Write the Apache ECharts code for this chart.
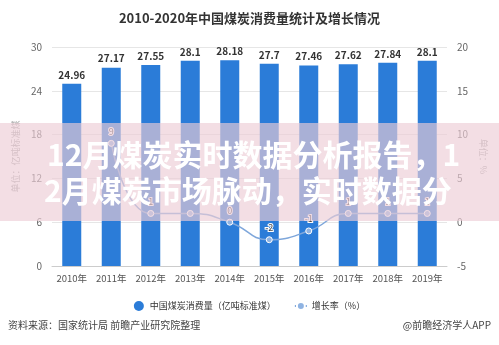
<!DOCTYPE html>
<html>
<head>
<meta charset="utf-8">
<script src="https://cdn.jsdelivr.net/npm/echarts@6/dist/echarts.min.js"></script>
<style>
  html, body { margin: 0; padding: 0; background: #fff; }
  #chart { width: 499px; height: 345px; }
</style>
</head>
<body>
<div id="chart"></div>
<script>
// Coal consumption by year (100 million tonnes of standard coal) and yearly growth (%)
const years = ['2010年', '2011年', '2012年', '2013年', '2014年', '2015年', '2016年', '2017年', '2018年', '2019年'];
const consumption = [24.96, 27.17, 27.55, 28.1, 28.18, 27.7, 27.46, 27.62, 27.84, 28.1];
const growth = [null, 9, 1, 1, 0, -2, -1, 1, 1, 1];
const hiddenGrowthLabels = [3];

const FONT = '"Noto Sans CJK SC", "Noto Sans", sans-serif';
const chart = echarts.init(document.getElementById('chart'));

chart.setOption({
  backgroundColor: '#ffffff',
  animation: false,
  textStyle: { fontFamily: FONT },
  title: {
    text: '2010-2020年中国煤炭消费量统计及增长情况',
    left: 'center',
    top: 7,
    textStyle: { fontSize: 13, fontWeight: 'bold', color: '#333', fontFamily: FONT }
  },
  grid: { left: 52, right: 52, top: 47, bottom: 79 },
  legend: {
    bottom: 29,
    left: 'center',
    itemGap: 18,
    itemWidth: 12,
    itemHeight: 10,
    textStyle: { fontSize: 9, color: '#333', fontFamily: FONT },
    data: [
      { name: '中国煤炭消费量（亿吨标准煤）', icon: 'circle' },
      { name: '增长率（%）' }
    ]
  },
  xAxis: {
    type: 'category',
    data: years,
    axisLine: { lineStyle: { color: '#cccccc' } },
    axisTick: { alignWithLabel: true, lineStyle: { color: '#cccccc' } },
    axisLabel: { color: '#555', fontSize: 9.5, margin: 8, interval: 0 }
  },
  yAxis: [
    {
      type: 'value',
      min: 0, max: 30, interval: 6,
      name: '单位：亿吨标准煤',
      nameLocation: 'middle',
      nameGap: 32,
      nameRotate: 90,
      nameTextStyle: { color: '#aaa', fontSize: 9 },
      axisLine: { show: false },
      axisTick: { show: false },
      axisLabel: { color: '#666', fontSize: 10, margin: 10 },
      splitLine: { lineStyle: { color: '#e6e6e6' } }
    },
    {
      type: 'value',
      min: -5, max: 20, interval: 5,
      name: '单位：%',
      nameLocation: 'middle',
      nameGap: 30,
      nameRotate: -90,
      nameTextStyle: { color: '#aaa', fontSize: 9 },
      axisLine: { show: false },
      axisTick: { show: false },
      axisLabel: { color: '#666', fontSize: 10, margin: 10 },
      splitLine: { show: false }
    }
  ],
  series: [
    {
      name: '中国煤炭消费量（亿吨标准煤）',
      type: 'bar',
      yAxisIndex: 0,
      barWidth: 19,
      data: consumption,
      itemStyle: { color: '#2b7cd8' },
      label: {
        show: true,
        position: 'top',
        distance: 4,
        fontSize: 10,
        fontWeight: 'bold',
        color: '#333'
      }
    },
    {
      name: '增长率（%）',
      type: 'line',
      yAxisIndex: 1,
      data: growth.map((v, i) => ({
        value: v,
        label: { show: v !== null && !hiddenGrowthLabels.includes(i) }
      })),
      connectNulls: false,
      symbol: 'circle',
      symbolSize: 6,
      smooth: true,
      lineStyle: { color: '#7fa7db', width: 1.5 },
      itemStyle: { color: '#8fb3e2', borderColor: '#ffffff', borderWidth: 1 },
      label: {
        show: true,
        position: 'top',
        distance: 4,
        fontSize: 9,
        color: '#444',
        textBorderColor: '#ffffff',
        textBorderWidth: 2
      }
    }
  ],
  graphic: [
    {
      type: 'text',
      left: 8,
      top: 320,
      style: { text: '资料来源：国家统计局 前瞻产业研究院整理', fontSize: 10, fill: '#444', fontFamily: FONT }
    },
    {
      type: 'text',
      right: 8,
      top: 320,
      style: { text: '@前瞻经济学人APP', fontSize: 10, fill: '#444', fontFamily: FONT }
    },
    {
      type: 'rect',
      z: 100,
      shape: { x: 0, y: 123, width: 499, height: 98 },
      style: { fill: 'rgba(237, 205, 214, 0.65)' }
    },
    {
      type: 'text',
      z: 101,
      left: 47,
      top: 140,
      style: {
        text: '12月煤炭实时数据分析报告，1',
        fontSize: 30,
        fontWeight: 'bold',
        fill: '#ffffff',
        fontFamily: FONT,
        shadowColor: 'rgba(120, 60, 80, 0.35)',
        shadowBlur: 3
      }
    },
    {
      type: 'text',
      z: 101,
      left: 44,
      top: 176,
      style: {
        text: '2月煤炭市场脉动，实时数据分',
        fontSize: 30,
        fontWeight: 'bold',
        fill: '#ffffff',
        fontFamily: FONT,
        shadowColor: 'rgba(120, 60, 80, 0.35)',
        shadowBlur: 3
      }
    }
  ]
});
</script>
</body>
</html>
